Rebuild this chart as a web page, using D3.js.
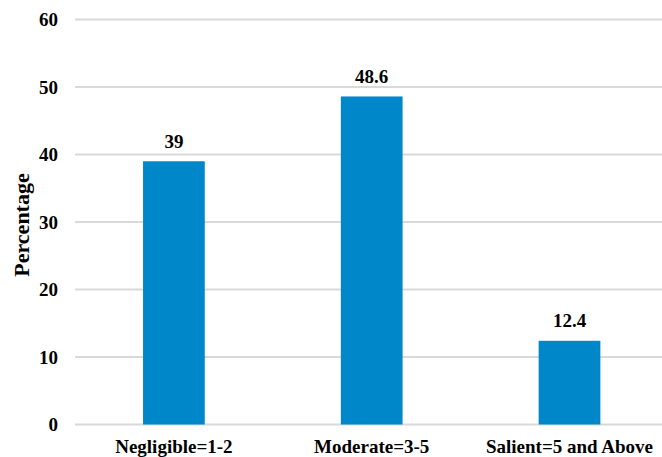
<!DOCTYPE html>
<html>
<head>
<meta charset="utf-8">
<script src="https://cdn.jsdelivr.net/npm/d3@7"></script>
<style>
html,body{margin:0;padding:0;background:#fff;}
svg{display:block;}
</style>
</head>
<body>
<svg id="chart" width="662" height="457"></svg>
<script>
const categories = ["Negligible=1-2", "Moderate=3-5", "Salient=5 and Above"];
const values = [39, 48.6, 12.4];
const valueLabels = ["39", "48.6", "12.4"];
const yTicks = [0, 10, 20, 30, 40, 50, 60];
const yTitle = "Percentage";

const FONT = "'Liberation Serif', 'Times New Roman', Times, serif";
const svg = d3.select("#chart");
const W = 662;
const x = d3.scaleBand().domain(categories).range([75, 668.4]).paddingInner(0.688).paddingOuter(0.344);
const y = d3.scaleLinear().domain([0, 60]).range([424.5, 19.5]);

function styleText(sel, size) {
  sel.style("font-family", FONT).style("font-weight", "bold").style("font-size", (size || 19) + "px").style("fill", "#000");
}

// gridlines
svg.append("g").selectAll("line").data(yTicks).join("line")
  .attr("x1", 75).attr("x2", W)
  .attr("y1", d => y(d)).attr("y2", d => y(d))
  .attr("stroke", "#d9d9d9").attr("stroke-width", 2);

// y axis labels
const yAxis = d3.axisLeft(y).tickValues(yTicks).tickSize(0).tickPadding(0);
const gy = svg.append("g").attr("transform", "translate(58,0)").call(yAxis);
gy.select(".domain").remove();
gy.selectAll("text").call(styleText).attr("dy", "0.34em");

// bars
svg.append("g").selectAll("rect").data(values).join("rect")
  .attr("x", (d, i) => x(categories[i]))
  .attr("width", x.bandwidth())
  .attr("y", d => y(d))
  .attr("height", d => y(0) - y(d))
  .attr("fill", "#0087c9");

// value labels
svg.append("g").selectAll("text").data(values).join("text")
  .attr("x", (d, i) => x(categories[i]) + x.bandwidth() / 2)
  .attr("y", d => y(d) - 13.5)
  .attr("text-anchor", "middle")
  .call(styleText)
  .text((d, i) => valueLabels[i]);

// x axis labels
const xAxis = d3.axisBottom(x).tickSize(0).tickPadding(0);
const gx = svg.append("g").attr("transform", "translate(0,452.5)").call(xAxis);
gx.select(".domain").remove();
gx.selectAll("text").call(styleText).attr("dy", "0");

// y title
svg.append("text")
  .attr("transform", "translate(29,225) rotate(-90)")
  .attr("text-anchor", "middle")
  .call(styleText, 22)
  .text(yTitle);
</script>
</body>
</html>
